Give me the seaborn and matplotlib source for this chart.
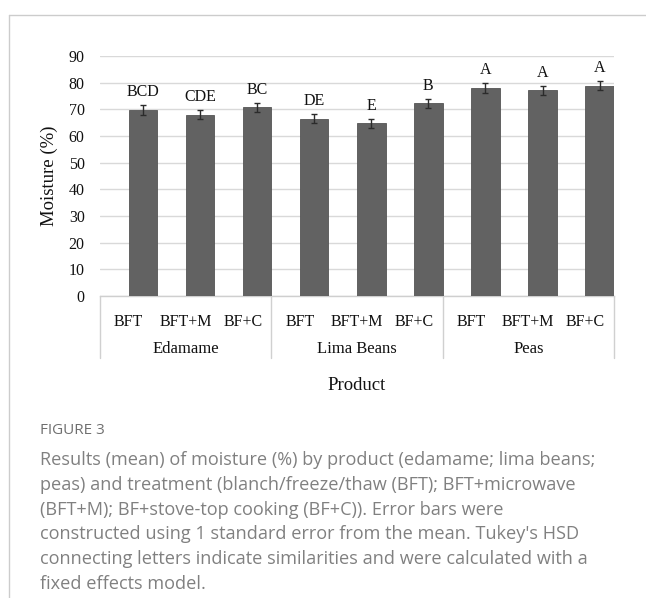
import numpy as np
import pandas as pd
import matplotlib
matplotlib.use("Agg")
import matplotlib.pyplot as plt
from matplotlib.lines import Line2D
from matplotlib.transforms import blended_transform_factory
import seaborn as sns

# Mean moisture (%) per product and treatment, with standard errors
products = ["Edamame", "Lima Beans", "Peas"]
treatments = ["BFT", "BFT+M", "BF+C"]
moisture = [69.8, 68.0, 70.7, 66.5, 64.7, 72.2, 78.1, 77.1, 78.9]
std_err = [1.8, 1.7, 1.8, 1.8, 1.7, 1.8, 1.8, 1.8, 1.8]
tukey_letters = ["BCD", "CDE", "BC", "DE", "E", "B", "A", "A", "A"]
y_ticks = [0, 10, 20, 30, 40, 50, 60, 70, 80, 90]

caption_title = "FIGURE 3"
caption_lines = [
    "Results (mean) of moisture (%) by product (edamame; lima beans;",
    "peas) and treatment (blanch/freeze/thaw (BFT); BFT+microwave",
    "(BFT+M); BF+stove-top cooking (BF+C)). Error bars were",
    "constructed using 1 standard error from the mean. Tukey's HSD",
    "connecting letters indicate similarities and were calculated with a",
    "fixed effects model.",
]

df = pd.DataFrame({
    "product": np.repeat(products, len(treatments)),
    "treatment": treatments * len(products),
    "moisture": moisture,
    "se": std_err,
    "letter": tukey_letters,
})
df["key"] = [f"{p}|{t}" for p, t in zip(df["product"], df["treatment"])]

sns.set_theme(style="white")
plt.rcParams["font.family"] = ["Liberation Serif", "DejaVu Serif"]

W, H = 646, 598
fig = plt.figure(figsize=(W / 100, H / 100), dpi=100)

# axes box in pixels: left 100, right 614, top 56, bottom 296
ax_l, ax_r, ax_t, ax_b = 100, 614, 56, 296
ax = fig.add_axes([ax_l / W, 1 - ax_b / H, (ax_r - ax_l) / W, (ax_b - ax_t) / H])

bar_color = "#626262"
sns.barplot(data=df, x="key", y="moisture", order=df["key"], color=bar_color,
            width=0.5, saturation=1, edgecolor="#555555", linewidth=0.6,
            errorbar=None, ax=ax, zorder=3)

xpos = np.arange(len(df))
ax.errorbar(xpos, df["moisture"], yerr=df["se"], fmt="none", ecolor="#2b2b2b",
            elinewidth=1.0, capsize=2.3, capthick=1.0, zorder=4)

for x, m, s, lab in zip(xpos, df["moisture"], df["se"], df["letter"]):
    ax.annotate(lab, (x, m + s), xytext=(0, 3.5), textcoords="offset points",
                ha="center", va="bottom", fontsize=11.5, color="#111111")

# each category slot spans [i-0.75, i+0.25]; bars sit in its right half
ax.set_xlim(-0.75, len(df) - 0.75)
ax.set_ylim(0, 90)
ax.set_yticks(y_ticks)
ax.set_yticklabels([str(v) for v in y_ticks], fontsize=11.5, color="#111111")
ax.set_xticks(xpos - 0.25)
ax.set_xticklabels(df["treatment"], fontsize=11.5, color="#111111")
ax.tick_params(axis="both", length=0)
ax.tick_params(axis="y", pad=11)
ax.tick_params(axis="x", pad=13)

ax.yaxis.grid(True, color="#d9d9d9", linewidth=1.0, zorder=0)
ax.set_axisbelow(True)
for side in ["top", "right", "left"]:
    ax.spines[side].set_visible(False)
ax.spines["bottom"].set_color("#cfcfcf")
ax.spines["bottom"].set_linewidth(1.0)

ax.set_xlabel("")
ax.set_ylabel("Moisture (%)", fontsize=13.5, color="#111111")
ax.yaxis.set_label_coords((58 - ax_l) / (ax_r - ax_l), 0.5)

# product grouping below the treatment labels
trans = blended_transform_factory(ax.transData, ax.transAxes)
ax_h = ax_b - ax_t
sep_bottom = -(358 - ax_b) / ax_h
n_t = len(treatments)
for g in range(len(products) + 1):
    xs = g * n_t - 0.75
    ax.add_line(Line2D([xs, xs], [0, sep_bottom], transform=trans,
                       color="#d0d0d0", linewidth=1.0, clip_on=False))
for g, name in enumerate(products):
    xc = g * n_t - 0.75 + n_t / 2
    ax.text(xc, -(349 - ax_b) / ax_h, name, transform=trans, ha="center",
            va="center", fontsize=12, color="#111111")

ax.text(0.5, -(385 - ax_b) / ax_h, "Product", transform=ax.transAxes,
        ha="center", va="center", fontsize=13.5, color="#111111")

# frame lines along the top and left of the panel
fig.add_artist(Line2D([9 / W, 1], [1 - 15 / H, 1 - 15 / H], transform=fig.transFigure,
                      color="#cccccc", linewidth=1.0))
fig.add_artist(Line2D([9 / W, 9 / W], [0, 1 - 15 / H], transform=fig.transFigure,
                      color="#cccccc", linewidth=1.0))

# caption
cap_font = ["Open Sans", "DejaVu Sans"]
fig.text(40 / W, 1 - 431 / H, caption_title, ha="left", va="center",
         fontsize=11, color="#6f6f6f", family=cap_font)
for i, line in enumerate(caption_lines):
    fig.text(40 / W, 1 - (460 + 24.8 * i) / H, line, ha="left", va="center",
             fontsize=13.1, color="#808080", family=cap_font)

fig.savefig("out.png", dpi=100, facecolor="white")
